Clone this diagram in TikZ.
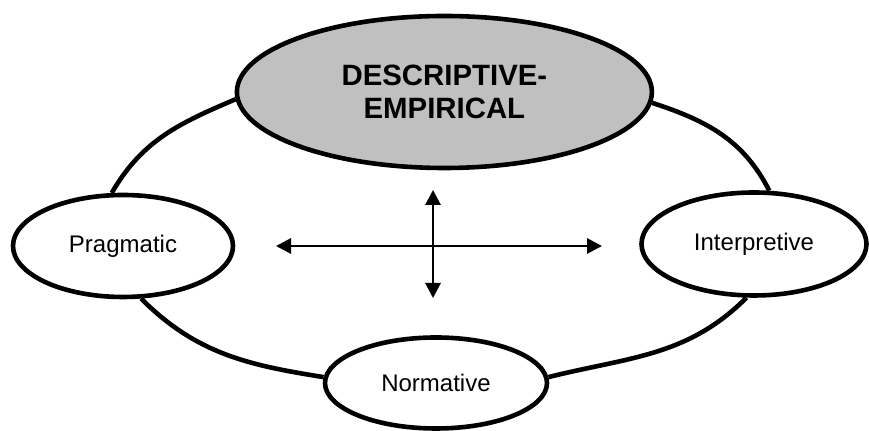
\documentclass[tikz,border=0pt]{standalone}
\usepackage{fontspec}
\setmainfont{Liberation Sans}
\usepackage{tikz}
\usetikzlibrary{arrows.meta,shapes.geometric,positioning}
\definecolor{coregray}{HTML}{C0C0C0}

\begin{document}
\begin{tikzpicture}[
  approach/.style={ellipse,draw,line width=0.115cm,fill=white,inner sep=0pt,
                   font=\fontsize{17.07}{20}\selectfont},
  core/.style={approach,fill=coregray,align=center,
               font=\fontsize{20.9}{23.47}\selectfont\bfseries},
  ring/.style={line width=0.115cm},
  twoway/.style={line width=0.06cm,
                 {Triangle[length=0.375cm,width=0.38cm]}-{Triangle[length=0.375cm,width=0.38cm]}}]
 \useasboundingbox (0,0) rectangle (21.725,10.775);
 % the four approaches
 \node[core,minimum width=10.375cm,minimum height=3.8cm] (desc) at (11.11,8.475) {DESCRIPTIVE-\\EMPIRICAL};
 \node[approach,minimum width=5.5cm,minimum height=2.55cm] (prag) at (3.075,4.625) {Pragmatic};
 \node[approach,minimum width=5.625cm,minimum height=2.575cm] (interp) at (18.85,4.675) {Interpretive};
 \node[approach,minimum width=5.55cm,minimum height=2.275cm] (norm) at (10.9,1.2) {Normative};
 % ring joining them
 \draw[ring] (desc.182) to[out=203,in=60] (prag.102);
 \draw[ring] (prag.289) to[out=315,in=171] (norm.177);
 \draw[ring] (norm.3) to[out=14,in=225] (interp.262);
 \draw[ring] (interp.74) to[out=117,in=342] (desc.357);
 % cross of arrows in the middle
 \coordinate (hub) at (10.825,4.625);
 \coordinate[above=1.4cm of hub] (up);
 \coordinate[below=1.3cm of hub] (down);
 \coordinate[left=3.925cm of hub] (west);
 \coordinate[right=4.225cm of hub] (east);
 \draw[twoway] (west) -- (east);
 \draw[twoway] (up) -- (down);
\end{tikzpicture}
\end{document}
